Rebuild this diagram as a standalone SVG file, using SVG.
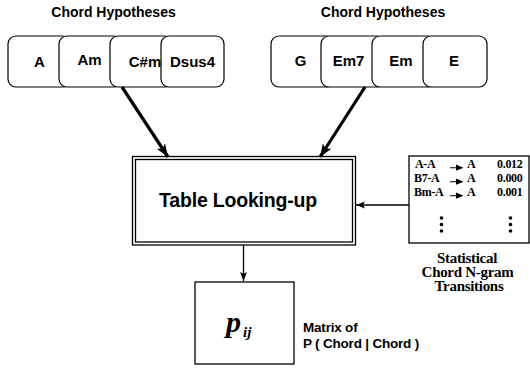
<svg xmlns="http://www.w3.org/2000/svg" width="530" height="370" viewBox="0 0 530 370">
  <style>
    .chord { fill: #fff; stroke: #000; stroke-width: 1.2; }
    .clabel { font-family: "Liberation Sans", Arial, sans-serif; font-weight: bold; font-size: 15px; text-anchor: middle; fill: #000; }
    .title { font-family: "Liberation Sans", Arial, sans-serif; font-weight: bold; font-size: 14px; text-anchor: middle; fill: #000; }
    .box { fill: #fff; stroke: #000; stroke-width: 1.3; }
    .tab { font-family: "Liberation Serif", "Times New Roman", serif; font-weight: bold; font-size: 12px; fill: #000; letter-spacing: -0.3px; }
    .cap { font-family: "Liberation Serif", "Times New Roman", serif; font-weight: bold; font-size: 15px; text-anchor: middle; fill: #000; letter-spacing: -0.3px; }
    .thick { stroke: #000; stroke-width: 3.2; fill: none; }
    .thin { stroke: #000; stroke-width: 1.3; fill: none; }
  </style>
  <defs>
    <marker id="bigHead" markerUnits="userSpaceOnUse" markerWidth="14" markerHeight="10" refX="13" refY="5" orient="auto">
      <path d="M0,0 L13,5 L0,10 L3,5 z" fill="#000"/>
    </marker>
    <marker id="smallHead" markerUnits="userSpaceOnUse" markerWidth="10" markerHeight="8" refX="9" refY="3.5" orient="auto">
      <path d="M0,0 L9,3.5 L0,7 L2,3.5 z" fill="#000"/>
    </marker>
  </defs>

  <!-- left hypothesis set -->
  <g id="hyp-left">
    <text class="title" x="113.5" y="17">Chord Hypotheses</text>
    <g id="chord-A"><rect class="chord" x="8" y="36" width="63" height="51" rx="8"/><text class="clabel" x="39.5" y="66.5">A</text></g>
    <g id="chord-Am"><rect class="chord" x="59" y="36" width="63" height="51" rx="8"/><text class="clabel" x="89.5" y="65">Am</text></g>
    <g id="chord-Csm"><rect class="chord" x="110" y="36" width="63" height="51" rx="8"/><text class="clabel" x="145" y="66.5">C#m</text></g>
    <g id="chord-Dsus4"><rect class="chord" x="161" y="36" width="63" height="51" rx="8"/><text class="clabel" x="192.5" y="66.5">Dsus4</text></g>
  </g>

  <!-- right hypothesis set -->
  <g id="hyp-right">
    <text class="title" x="383" y="17">Chord Hypotheses</text>
    <g id="chord-G"><rect class="chord" x="271" y="36" width="64" height="51" rx="8"/><text class="clabel" x="300.5" y="66">G</text></g>
    <g id="chord-Em7"><rect class="chord" x="321" y="36" width="64" height="51" rx="8"/><text class="clabel" x="348.5" y="65.5">Em7</text></g>
    <g id="chord-Em"><rect class="chord" x="372" y="36" width="64" height="51" rx="8"/><text class="clabel" x="401" y="66">Em</text></g>
    <g id="chord-E"><rect class="chord" x="423" y="36" width="64" height="51" rx="8"/><text class="clabel" x="454" y="66">E</text></g>
  </g>

  <!-- lookup node with double border -->
  <g id="table-lookup">
    <rect x="132.5" y="156.5" width="223" height="88.5" fill="#fff" stroke="#000" stroke-width="1.3"/>
    <rect x="135.5" y="159.5" width="217" height="82.5" fill="none" stroke="#000" stroke-width="1.3"/>
    <text x="238" y="207" font-family="Liberation Sans, Arial, sans-serif" font-weight="bold" font-size="19.5" text-anchor="middle" letter-spacing="-0.2">Table Looking-up</text>
  </g>

  <!-- n-gram transition table -->
  <g id="ngram-table">
    <rect class="box" x="409" y="156" width="120" height="87"/>
    <text class="tab" x="415" y="168">A-A</text>
    <text class="tab" x="414" y="182">B7-A</text>
    <text class="tab" x="414" y="196">Bm-A</text>
    <g fill="#000">
      <path d="M450,167.2 h6 v-2.6 l7.5,3.1 l-7.5,3.1 v-2.6 h-6 z"/>
      <path d="M450,181.2 h6 v-2.6 l7.5,3.1 l-7.5,3.1 v-2.6 h-6 z"/>
      <path d="M450,195.2 h6 v-2.6 l7.5,3.1 l-7.5,3.1 v-2.6 h-6 z"/>
    </g>
    <text class="tab" x="467" y="168">A</text>
    <text class="tab" x="467" y="182">A</text>
    <text class="tab" x="467" y="196">A</text>
    <text class="tab" x="497" y="168">0.012</text>
    <text class="tab" x="497" y="182">0.000</text>
    <text class="tab" x="497" y="196">0.001</text>
    <g fill="#000">
      <circle cx="441.5" cy="218" r="1.8"/><circle cx="441.5" cy="224.5" r="1.8"/><circle cx="441.5" cy="231" r="1.8"/>
      <circle cx="510.5" cy="218" r="1.8"/><circle cx="510.5" cy="224.5" r="1.8"/><circle cx="510.5" cy="231" r="1.8"/>
    </g>
    <text class="cap" x="467" y="263">Statistical</text>
    <text class="cap" x="467.5" y="277">Chord N-gram</text>
    <text class="cap" x="469" y="291">Transitions</text>
  </g>

  <!-- probability matrix node -->
  <g id="matrix">
    <rect class="box" x="195" y="282" width="99" height="82"/>
    <text x="226" y="332" font-family="Liberation Serif, Times New Roman, serif" font-style="italic" font-weight="bold" font-size="30">p</text>
    <text x="243" y="337" font-family="Liberation Serif, Times New Roman, serif" font-style="italic" font-weight="bold" font-size="15">ij</text>
    <text x="303" y="332" font-family="Liberation Sans, Arial, sans-serif" font-weight="bold" font-size="13.5" letter-spacing="-0.2">Matrix of</text>
    <text x="303" y="348" font-family="Liberation Sans, Arial, sans-serif" font-weight="bold" font-size="13.5" letter-spacing="-0.2">P ( Chord | Chord )</text>
  </g>

  <!-- connectors -->
  <g id="connectors">
    <line class="thick" x1="122" y1="87" x2="168" y2="157" marker-end="url(#bigHead)"/>
    <line class="thick" x1="365" y1="87" x2="320" y2="157" marker-end="url(#bigHead)"/>
    <line class="thin" x1="409" y1="205" x2="356" y2="205" marker-end="url(#smallHead)"/>
    <line class="thin" x1="243.5" y1="245" x2="243.5" y2="281" marker-end="url(#smallHead)"/>
  </g>
</svg>
